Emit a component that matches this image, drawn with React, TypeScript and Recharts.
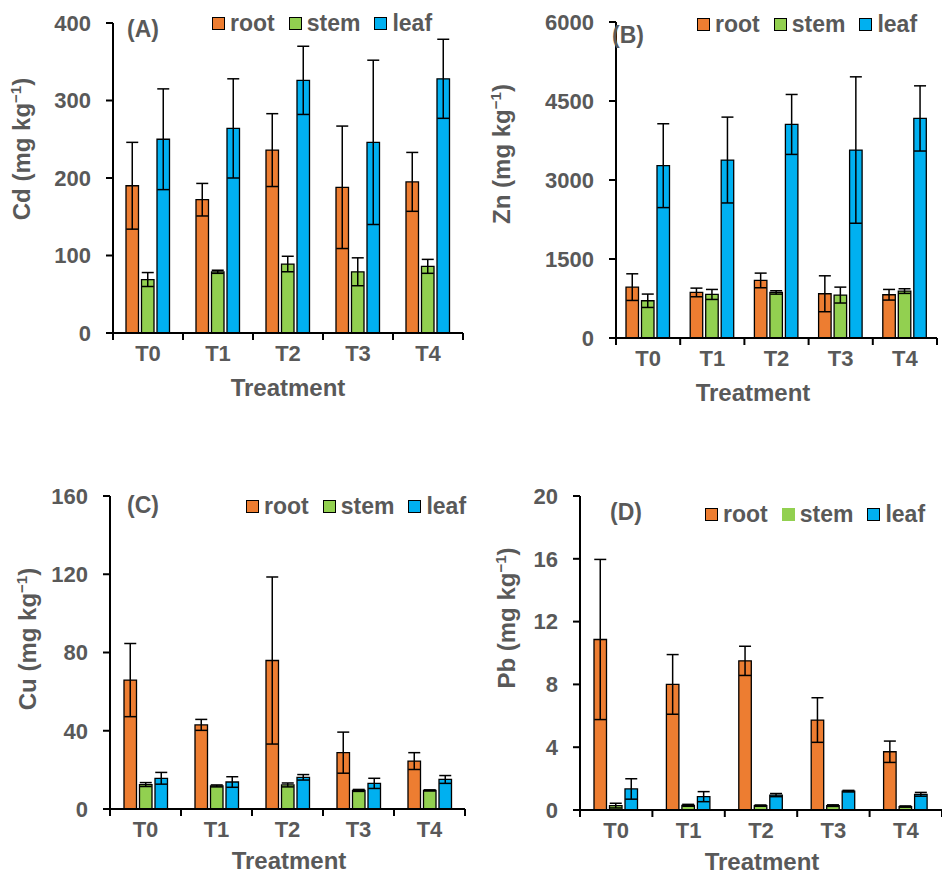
import React from "react";
import { BarChart, Bar, XAxis, YAxis, ErrorBar, Legend } from "recharts";

const treatments = ["T0", "T1", "T2", "T3", "T4"];
const parts = ["root", "stem", "leaf"];

// Cd (A)
const cdRoot = [190, 172, 236, 188, 195];
const cdRootSd = [56, 21, 47, 79, 38];
const cdStem = [69, 79, 89, 79, 86];
const cdStemSd = [9, 2, 10, 18, 9];
const cdLeaf = [250, 264, 326, 246, 328];
const cdLeafSd = [65, 64, 44, 106, 51];
const cdTicks = [0, 100, 200, 300, 400];

// Zn (B)
const znRoot = [966, 865, 1093, 840, 821];
const znRootSd = [253, 82, 139, 341, 101];
const znStem = [707, 827, 865, 815, 891];
const znStemSd = [127, 95, 32, 151, 44];
const znLeaf = [3272, 3379, 4055, 3569, 4169];
const znLeafSd = [796, 815, 569, 1390, 619];
const znTicks = [0, 1500, 3000, 4500, 6000];

// Cu (C)
const cuRoot = [65.9, 43, 75.9, 28.8, 24.5];
const cuRootSd = [18.7, 2.8, 42.7, 10.5, 4.3];
const cuStem = [12.5, 11.8, 12.3, 9.5, 9.5];
const cuStemSd = [1, 0.5, 1, 0.5, 0.3];
const cuLeaf = [15.7, 13.8, 16.2, 13.1, 15.1];
const cuLeafSd = [3, 2.7, 1.4, 2.6, 2];
const cuTicks = [0, 40, 80, 120, 160];

// Pb (D)
const pbRoot = [10.86, 8.0, 9.5, 5.73, 3.71];
const pbRootSd = [5.1, 1.9, 0.93, 1.42, 0.68];
const pbStem = [0.28, 0.3, 0.28, 0.28, 0.22];
const pbStemSd = [0.15, 0.06, 0.04, 0.05, 0.04];
const pbLeaf = [1.34, 0.85, 0.95, 1.2, 1.0];
const pbLeafSd = [0.65, 0.32, 0.1, 0.05, 0.12];
const pbTicks = [0, 4, 8, 12, 16, 20];

const ROOT = "#ED7D31";
const STEM = "#92D050";
const LEAF = "#00B0F0";
const GRAY = "#595959";
const FONT = "'Liberation Sans', Arial, sans-serif";

const rows = (root, rootSd, stem, stemSd, leaf, leafSd) =>
  treatments.map((t, i) => ({
    name: t,
    root: root[i],
    rootSd: rootSd[i],
    stem: stem[i],
    stemSd: stemSd[i],
    leaf: leaf[i],
    leafSd: leafSd[i],
  }));

const panels = [
  {
    tag: "(A)",
    element: "Cd",
    data: rows(cdRoot, cdRootSd, cdStem, cdStemSd, cdLeaf, cdLeafSd),
    ticks: cdTicks,
    box: { left: 0, top: 0, w: 470, h: 410 },
    plot: { x: 113, y: 23, x2: 463, y2: 333 },
    xTitle: { x: 288, y: 388 },
    yTitle: { x: 22, y: 149 },
    tagPos: { x: 127, y: 29 },
    legendPos: { x: 212, y: 23 },
    stemBorder: true,
  },
  {
    tag: "(B)",
    element: "Zn",
    data: rows(znRoot, znRootSd, znStem, znStemSd, znLeaf, znLeafSd),
    ticks: znTicks,
    box: { left: 470, top: 0, w: 472, h: 410 },
    plot: { x: 146, y: 22, x2: 467, y2: 338 },
    xTitle: { x: 283, y: 393 },
    yTitle: { x: 32, y: 154 },
    tagPos: { x: 142, y: 35 },
    legendPos: { x: 227, y: 24 },
    stemBorder: true,
  },
  {
    tag: "(C)",
    element: "Cu",
    data: rows(cuRoot, cuRootSd, cuStem, cuStemSd, cuLeaf, cuLeafSd),
    ticks: cuTicks,
    box: { left: 0, top: 470, w: 470, h: 405 },
    plot: { x: 110, y: 26, x2: 465, y2: 339 },
    xTitle: { x: 289, y: 391 },
    yTitle: { x: 28, y: 169 },
    tagPos: { x: 127, y: 35 },
    legendPos: { x: 246, y: 36 },
    stemBorder: true,
  },
  {
    tag: "(D)",
    element: "Pb",
    data: rows(pbRoot, pbRootSd, pbStem, pbStemSd, pbLeaf, pbLeafSd),
    ticks: pbTicks,
    box: { left: 470, top: 470, w: 472, h: 405 },
    plot: { x: 110, y: 26, x2: 472, y2: 340 },
    xTitle: { x: 292, y: 392 },
    yTitle: { x: 37, y: 148 },
    tagPos: { x: 140, y: 42 },
    legendPos: { x: 235, y: 44 },
    stemBorder: false,
  },
];

const textStyle = { fontFamily: FONT, fontWeight: 700, fill: GRAY };

function CategoryTick(props) {
  const { x, y, payload, index, band } = props;
  const half = band / 2;
  const last = index === treatments.length - 1;
  return (
    <g>
      <line x1={x - half} x2={x - half} y1={y} y2={y + 7} stroke="#000" strokeWidth={2} />
      {last && <line x1={x + half} x2={x + half} y1={y} y2={y + 7} stroke="#000" strokeWidth={2} />}
      <text x={x} y={y + 20} dy="0.35em" textAnchor="middle" fontSize={22} {...textStyle}>
        {payload.value}
      </text>
    </g>
  );
}

function LegendBox({ payload, border }) {
  const items = [...(payload || [])].sort((a, b) => parts.indexOf(a.value) - parts.indexOf(b.value));
  return (
    <div style={{ display: "flex", alignItems: "center", height: 24, fontFamily: FONT, fontWeight: 700, fontSize: 23, color: GRAY, whiteSpace: "nowrap" }}>
      {items.map((p, i) => {
        const boxed = p.value !== "stem" || border;
        return (
          <div key={p.value} style={{ display: "flex", alignItems: "center", marginLeft: i === 0 ? 0 : 14 }}>
            <span
              style={{
                display: "inline-block",
                boxSizing: "border-box",
                width: 13,
                height: 13,
                background: p.color,
                border: boxed ? "1.5px solid #000" : "none",
                marginRight: 5,
              }}
            />
            <span style={{ lineHeight: "24px" }}>{p.value}</span>
          </div>
        );
      })}
    </div>
  );
}

function Panel({ cfg }) {
  const { box, plot } = cfg;
  const band = (plot.x2 - plot.x) / treatments.length;
  const max = cfg.ticks[cfg.ticks.length - 1];
  return (
    <div style={{ position: "absolute", left: box.left, top: box.top, width: box.w, height: box.h }}>
      <BarChart
        width={box.w}
        height={box.h}
        data={cfg.data}
        barSize={12.5}
        barGap={3}
        margin={{ top: plot.y, left: plot.x - 60, right: box.w - plot.x2, bottom: box.h - plot.y2 - 40 }}
      >
        <XAxis
          dataKey="name"
          height={40}
          tickLine={false}
          tickSize={0}
          tickMargin={0}
          axisLine={{ stroke: "#000", strokeWidth: 2 }}
          tick={<CategoryTick band={band} />}
          interval={0}
          label={{
            content: () => (
              <text x={cfg.xTitle.x} y={cfg.xTitle.y} dy="0.35em" textAnchor="middle" fontSize={24} {...textStyle}>
                Treatment
              </text>
            ),
          }}
        />
        <YAxis
          width={60}
          domain={[0, max]}
          ticks={cfg.ticks}
          interval={0}
          tickSize={7}
          tickMargin={15}
          tickLine={{ stroke: "#000", strokeWidth: 2 }}
          axisLine={{ stroke: "#000", strokeWidth: 2 }}
          tick={{ fontSize: 22, fontFamily: FONT, fontWeight: 700, fill: GRAY }}
          label={{
            content: () => {
              const bx = cfg.yTitle.x + 8;
              return (
                <text
                  x={bx}
                  y={cfg.yTitle.y}
                  transform={`rotate(-90 ${bx} ${cfg.yTitle.y})`}
                  textAnchor="middle"
                  fontSize={24}
                  {...textStyle}
                >
                  {cfg.element} (mg kg
                  <tspan dy={-9} fontSize={15}>−1</tspan>
                  <tspan dy={9}>)</tspan>
                </text>
              );
            },
          }}
        />
        <Legend
          verticalAlign="middle"
          align="center"
          wrapperStyle={{ top: cfg.legendPos.y - 12, left: cfg.legendPos.x, width: 260, height: 24 }}
          content={(props) => <LegendBox payload={props.payload} border={cfg.stemBorder} />}
        />
        <Bar dataKey="root" name="root" fill={ROOT} stroke="#000" strokeWidth={1.3} isAnimationActive={false}>
          <ErrorBar dataKey="rootSd" width={6} stroke="#000" strokeWidth={1.5} />
        </Bar>
        <Bar dataKey="stem" name="stem" fill={STEM} stroke="#000" strokeWidth={1.3} isAnimationActive={false}>
          <ErrorBar dataKey="stemSd" width={6} stroke="#000" strokeWidth={1.5} />
        </Bar>
        <Bar dataKey="leaf" name="leaf" fill={LEAF} stroke="#000" strokeWidth={1.3} isAnimationActive={false}>
          <ErrorBar dataKey="leafSd" width={6} stroke="#000" strokeWidth={1.5} />
        </Bar>
      </BarChart>
      <div
        style={{
          position: "absolute",
          left: cfg.tagPos.x,
          top: cfg.tagPos.y - 13,
          height: 26,
          lineHeight: "26px",
          fontFamily: FONT,
          fontWeight: 700,
          fontSize: 23,
          color: GRAY,
        }}
      >
        {cfg.tag}
      </div>
    </div>
  );
}

export default function App() {
  return (
    <div style={{ position: "absolute", left: 0, top: 0, width: 942, height: 875, background: "#fff", overflow: "hidden" }}>
      {panels.map((p) => (
        <Panel key={p.tag} cfg={p} />
      ))}
    </div>
  );
}
